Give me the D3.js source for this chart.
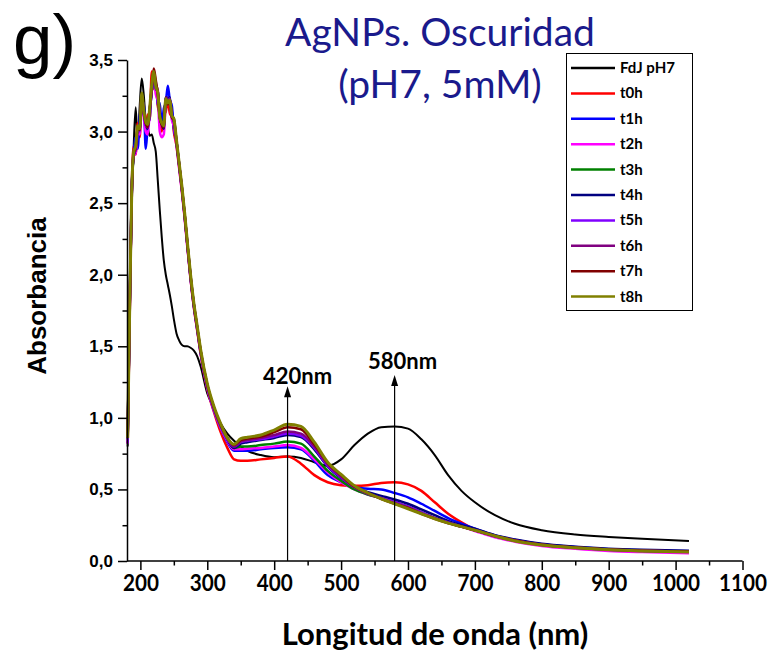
<!DOCTYPE html>
<html>
<head>
<meta charset="utf-8">
<script src="https://cdn.jsdelivr.net/npm/d3@7"></script>
<style>
  html, body { margin: 0; padding: 0; background: #fff; }
  svg { display: block; }
</style>
</head>
<body>
<svg id="chart" width="774" height="655"></svg>
<script>
// Wavelength grid (nm) shared by every spectrum
const wavelength = [181,184,187,190,193,196,199,202,205,208,211,214,217,220,223,226,229,232,235,238,241,244,247,250,
  254,258,262,266,270,275,280,285,290,300,310,320,330,340,350,360,
  380,400,420,440,460,480,500,520,540,560,580,600,620,640,660,680,700,
  730,760,800,850,900,950,1020];

// Absorbance of each sample
const fdjPH7 = [0.80,1.60,2.45,2.90,3.17,2.92,3.18,3.37,3.26,3.08,3.03,2.97,2.98,2.92,2.86,2.66,2.45,2.26,2.10,2.00,1.93,1.86,1.78,1.69,
  1.59,1.54,1.51,1.50,1.50,1.49,1.47,1.43,1.36,1.17,1.07,0.96,0.89,0.84,0.80,0.77,
  0.74,0.725,0.73,0.72,0.69,0.665,0.71,0.81,0.89,0.935,0.94,0.925,0.85,0.74,0.60,0.49,0.41,
  0.32,0.26,0.215,0.185,0.168,0.155,0.14];
const t0h = [0.82,1.70,2.58,2.90,2.84,3.06,2.96,3.22,3.14,3.02,3.12,3.08,3.42,3.30,3.34,3.18,3.12,3.00,3.12,3.14,3.24,3.12,3.15,3.00,
  2.90,2.75,2.59,2.41,2.21,1.97,1.77,1.61,1.45,1.20,1.04,0.90,0.79,0.71,0.70,0.70,
  0.71,0.72,0.73,0.68,0.60,0.55,0.53,0.525,0.53,0.545,0.55,0.535,0.49,0.41,0.33,0.27,0.22,
  0.175,0.145,0.115,0.095,0.08,0.072,0.066];
const t1h = [0.86,1.78,2.60,2.84,2.96,2.88,3.10,3.18,3.20,2.88,3.04,3.10,3.30,3.32,3.36,3.18,3.20,3.04,3.16,3.20,3.32,3.22,3.18,3.02,
  2.93,2.77,2.60,2.42,2.22,1.98,1.78,1.62,1.46,1.21,1.05,0.93,0.83,0.77,0.77,0.77,
  0.78,0.79,0.795,0.78,0.70,0.60,0.55,0.515,0.505,0.50,0.475,0.445,0.40,0.35,0.30,0.26,0.225,
  0.178,0.147,0.117,0.097,0.082,0.074,0.068];
const t2h = [0.84,1.72,2.52,2.86,2.84,3.00,2.98,3.20,3.10,3.00,2.98,3.14,3.28,3.38,3.26,3.22,3.00,2.96,2.98,3.18,3.20,3.20,3.08,3.04,
  2.90,2.74,2.58,2.40,2.20,1.97,1.77,1.61,1.45,1.21,1.05,0.93,0.84,0.78,0.78,0.785,
  0.79,0.80,0.81,0.79,0.71,0.62,0.55,0.50,0.465,0.44,0.415,0.38,0.34,0.30,0.27,0.24,0.21,
  0.165,0.135,0.105,0.085,0.07,0.062,0.055];
const t3h = [0.85,1.76,2.56,2.84,2.90,3.03,3.02,3.25,3.14,3.08,3.04,3.15,3.28,3.40,3.30,3.28,3.12,3.07,3.04,3.24,3.19,3.22,3.11,3.07,
  2.92,2.76,2.60,2.42,2.22,1.98,1.78,1.62,1.46,1.22,1.06,0.94,0.85,0.79,0.80,0.80,
  0.81,0.82,0.835,0.82,0.73,0.63,0.56,0.50,0.465,0.44,0.41,0.38,0.34,0.30,0.27,0.24,0.215,
  0.172,0.142,0.112,0.092,0.078,0.07,0.064];
const t4h = [0.86,1.78,2.55,2.83,2.88,3.01,3.02,3.25,3.13,3.05,3.02,3.15,3.29,3.41,3.32,3.27,3.11,3.05,3.02,3.24,3.20,3.24,3.11,3.09,
  2.93,2.77,2.61,2.43,2.23,1.99,1.79,1.63,1.47,1.23,1.07,0.95,0.85,0.79,0.82,0.83,
  0.845,0.86,0.88,0.865,0.78,0.66,0.58,0.52,0.48,0.455,0.43,0.40,0.36,0.32,0.28,0.25,0.225,
  0.18,0.15,0.12,0.10,0.086,0.078,0.072];
const t5h = [0.82,1.74,2.54,2.85,2.87,3.02,3.00,3.24,3.13,3.04,3.03,3.14,3.28,3.40,3.31,3.28,3.10,3.06,3.03,3.22,3.21,3.23,3.10,3.07,
  2.92,2.76,2.60,2.42,2.22,1.98,1.78,1.62,1.46,1.22,1.06,0.94,0.85,0.80,0.83,0.84,
  0.85,0.87,0.89,0.875,0.79,0.665,0.585,0.515,0.47,0.44,0.41,0.38,0.34,0.30,0.27,0.24,0.215,
  0.173,0.143,0.113,0.093,0.079,0.071,0.065];
const t6h = [0.87,1.77,2.56,2.84,2.88,3.02,3.02,3.26,3.15,3.06,3.04,3.16,3.30,3.42,3.33,3.29,3.09,3.05,3.04,3.24,3.20,3.23,3.11,3.08,
  2.93,2.77,2.61,2.43,2.23,1.99,1.79,1.63,1.47,1.23,1.07,0.95,0.86,0.80,0.835,0.845,
  0.86,0.88,0.905,0.89,0.80,0.675,0.59,0.515,0.47,0.435,0.405,0.375,0.335,0.30,0.265,0.24,0.215,
  0.174,0.143,0.113,0.093,0.079,0.071,0.065];
const t7h = [0.86,1.76,2.55,2.85,2.89,3.03,3.01,3.25,3.14,3.06,3.03,3.15,3.31,3.44,3.36,3.26,3.10,3.05,3.03,3.23,3.19,3.22,3.10,3.08,
  2.93,2.77,2.61,2.43,2.23,1.99,1.79,1.63,1.47,1.23,1.07,0.95,0.86,0.81,0.845,0.855,
  0.87,0.90,0.935,0.92,0.815,0.685,0.60,0.52,0.475,0.435,0.40,0.37,0.33,0.295,0.265,0.24,0.215,
  0.175,0.144,0.114,0.094,0.08,0.072,0.066];
const t8h = [0.86,1.77,2.56,2.86,2.90,3.04,3.02,3.27,3.15,3.07,3.05,3.17,3.33,3.42,3.32,3.27,3.10,3.06,3.04,3.23,3.20,3.22,3.11,3.09,
  2.94,2.78,2.62,2.44,2.24,2.00,1.80,1.64,1.48,1.24,1.08,0.96,0.86,0.815,0.855,0.865,
  0.88,0.915,0.955,0.94,0.83,0.69,0.605,0.525,0.475,0.435,0.40,0.365,0.33,0.295,0.265,0.24,0.215,
  0.175,0.14,0.112,0.092,0.078,0.07,0.063];

const seriesNames = ["FdJ pH7","t0h","t1h","t2h","t3h","t4h","t5h","t6h","t7h","t8h"];
const seriesValues = [fdjPH7,t0h,t1h,t2h,t3h,t4h,t5h,t6h,t7h,t8h];
const seriesColors = ["#000000","#ff0000","#0000ff","#ff00ff","#008000","#000080","#8000ff","#800080","#800000","#808000"];
const seriesWidths = [2,2.5,2.5,2.5,2.5,2.5,2.5,2.5,2.5,3];

// Axis ticks
const xMajorTicks = [200,300,400,500,600,700,800,900,1000,1100];
const xMinorTicks = [250,350,450,550,650,750,850,950,1050];
const yMajorTicks = [0,0.5,1.0,1.5,2.0,2.5,3.0,3.5];
const yMinorTicks = [0.25,0.75,1.25,1.75,2.25,2.75,3.25];

// Band markers: wavelength and arrow-tip absorbance
const markerNm = [420,580];
const markerTip = [1.22,1.30];

const svg = d3.select("#chart");
const calibriLike = "Lato, 'Open Sans', sans-serif";
const arialLike = "'Liberation Sans', Arial, sans-serif";

const x = d3.scaleLinear().domain([180,1100]).range([127,742.5]);
const y = d3.scaleLinear().domain([0,3.5]).range([561,60]);

// Panel letter
svg.append("text").attr("x",13).attr("y",64)
  .style("font-family",arialLike).style("font-size","71px").attr("fill","#000").text("g)");

// Title
const title = svg.append("text").attr("text-anchor","middle")
  .style("font-family",calibriLike).style("font-size","39px").attr("fill","#1a1a8c");
title.append("tspan").attr("x",440).attr("y",46).text("AgNPs. Oscuridad");
title.append("tspan").attr("x",440).attr("y",98).text("(pH7, 5mM)");

// Spectra
const line = d3.line().x(d => x(d[0])).y(d => y(d[1])).curve(d3.curveMonotoneX);
const gLines = svg.append("g");
seriesValues.forEach((vals, i) => {
  gLines.append("path")
    .datum(wavelength.map((w, k) => [w, vals[k]]))
    .attr("d", line)
    .attr("fill","none")
    .attr("stroke", seriesColors[i])
    .attr("stroke-width", seriesWidths[i])
    .attr("stroke-linejoin","round");
});

// Band marker arrows and labels
const gMark = svg.append("g");
markerNm.forEach((nm, i) => {
  const px = x(nm), tip = y(markerTip[i]);
  gMark.append("line").attr("x1",px).attr("x2",px).attr("y1",y(0)).attr("y2",tip+6)
    .attr("stroke","#000").attr("stroke-width",1.2);
  gMark.append("path").attr("d",`M${px},${tip} L${px-3.5},${tip+11} L${px+3.5},${tip+11} Z`).attr("fill","#000");
  gMark.append("text").attr("x",px+(i===0?10:8)).attr("y",tip-(i===0?2:6))
    .attr("text-anchor","middle")
    .style("font-family",calibriLike).style("font-weight","700").style("font-size","22px")
    .text(nm + "nm");
});

// Axes
const fmt = d => d.toFixed(1).replace(".", ",");
const gx = svg.append("g").attr("transform",`translate(0,${y(0)})`)
  .call(d3.axisBottom(x).tickValues(xMajorTicks).tickSize(9).tickSizeOuter(0).tickPadding(5)
    .tickFormat(d3.format("d")));
svg.append("g").attr("transform",`translate(0,${y(0)})`)
  .call(d3.axisBottom(x).tickValues(xMinorTicks).tickSize(4.5).tickFormat(""))
  .call(g => g.select(".domain").remove());
gx.select(".domain").attr("d",`M${x(180)},0H${x(1100)}`);
gx.selectAll("text").style("font-family",calibriLike).style("font-weight","700")
  .style("font-size","23px").attr("fill","#000").attr("transform","scale(0.9,1)");

const gy = svg.append("g").attr("transform",`translate(${x(180)},0)`)
  .call(d3.axisLeft(y).tickValues(yMajorTicks).tickSize(9).tickSizeOuter(0).tickPadding(5).tickFormat(fmt));
svg.append("g").attr("transform",`translate(${x(180)},0)`)
  .call(d3.axisLeft(y).tickValues(yMinorTicks).tickSize(4.5).tickFormat(""))
  .call(g => g.select(".domain").remove());
gy.selectAll("text").style("font-family",arialLike).style("font-weight","700")
  .style("font-size","17px").attr("fill","#000");

svg.selectAll(".domain, .tick line").attr("stroke","#000").attr("stroke-width",1.5);

// Axis titles
svg.append("text").attr("x",435).attr("y",645).attr("text-anchor","middle")
  .style("font-family",calibriLike).style("font-weight","700").style("font-size","31px")
  .text("Longitud de onda (nm)");
svg.append("text").attr("transform","translate(46,296) rotate(-90)").attr("text-anchor","middle")
  .style("font-family",arialLike).style("font-weight","700").style("font-size","26px")
  .text("Absorbancia");

// Legend
const lg = svg.append("g");
lg.append("rect").attr("x",566.5).attr("y",53.5).attr("width",126).attr("height",257)
  .attr("fill","#fff").attr("stroke","#000").attr("stroke-width",1);
seriesNames.forEach((name, i) => {
  const yy = 68 + i * 25.4;
  lg.append("line").attr("x1",571).attr("x2",615).attr("y1",yy).attr("y2",yy)
    .attr("stroke",seriesColors[i]).attr("stroke-width",2.5);
  lg.append("text").attr("x",620).attr("y",yy + 5)
    .style("font-family",calibriLike).style("font-weight","700").style("font-size","15px")
    .text(name);
});
</script>
</body>
</html>
